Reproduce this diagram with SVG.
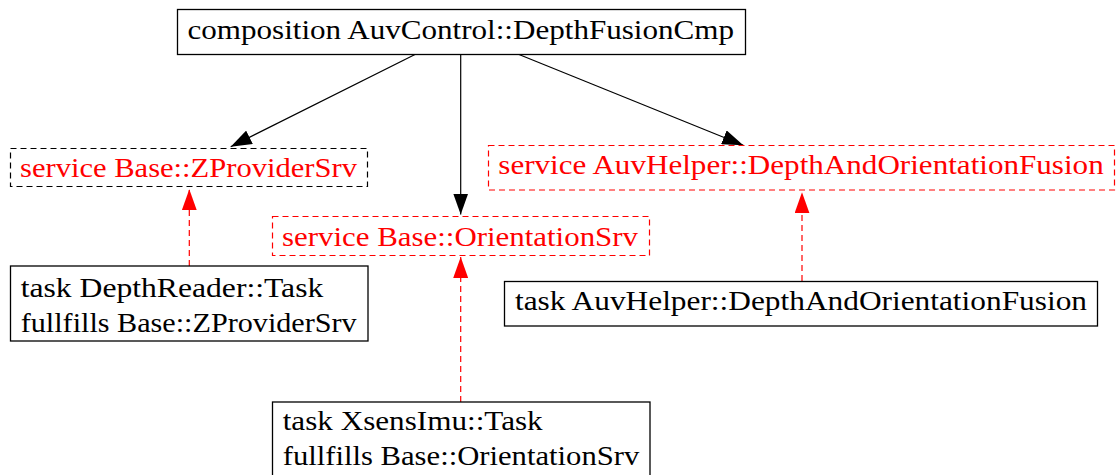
<svg xmlns="http://www.w3.org/2000/svg" width="1116" height="475" viewBox="0 0 1116 475">
  <style>
    text { font-family: "Liberation Serif", Tinos, "Times New Roman", "Noto Serif", "DejaVu Serif", FreeSerif, "Nimbus Roman", "Nimbus Roman No9 L", Times, serif; font-size: 27px; }
    .task rect { fill: #ffffff; stroke: #000000; stroke-width: 1.3; }
    .task text { fill: #000000; }
    .srv rect { fill: #ffffff; stroke: #ff0000; stroke-width: 1.2; stroke-dasharray: 6 4; }
    .srv text { fill: #ff0000; }
    #zprovider rect { stroke: #000000; }
    .uses { stroke: #000000; stroke-width: 1.2; fill: none; }
    .provides { stroke: #ff0000; stroke-width: 1.2; fill: none; stroke-dasharray: 6 4; }
  </style>
  <defs>
    <marker id="head-black" viewBox="0 0 21 15" refX="21" refY="7.5" markerWidth="21" markerHeight="15" markerUnits="userSpaceOnUse" orient="auto">
      <path d="M0,0 L21,7.5 L0,15 z" fill="#000000"/>
    </marker>
    <marker id="head-red" viewBox="0 0 21 15" refX="21" refY="7.5" markerWidth="21" markerHeight="15" markerUnits="userSpaceOnUse" orient="auto">
      <path d="M0,0 L21,7.5 L0,15 z" fill="#ff0000"/>
    </marker>
  </defs>

  <rect width="1116" height="475" fill="#ffffff"/>

  <!-- connectors -->
  <g id="edges">
    <line class="uses" x1="415" y1="54.5" x2="230.7" y2="146.7" marker-end="url(#head-black)"/>
    <line class="uses" x1="460.7" y1="54.5" x2="460.7" y2="214.5" marker-end="url(#head-black)"/>
    <line class="uses" x1="519" y1="54.5" x2="743.3" y2="145.2" marker-end="url(#head-black)"/>
    <line class="provides" x1="189.3" y1="266" x2="189.3" y2="189.3" marker-end="url(#head-red)"/>
    <line class="provides" x1="460.7" y1="402" x2="460.7" y2="257" marker-end="url(#head-red)"/>
    <line class="provides" x1="802" y1="281" x2="802" y2="192.3" marker-end="url(#head-red)"/>
  </g>

  <!-- composition -->
  <g id="composition" class="task">
    <rect x="177.5" y="9.5" width="568" height="45"/>
    <text x="187.5" y="38.5" textLength="546.5" lengthAdjust="spacingAndGlyphs">composition AuvControl::DepthFusionCmp</text>
  </g>

  <!-- services -->
  <g id="zprovider" class="srv">
    <rect x="10.5" y="148.5" width="357" height="38"/>
    <text x="20" y="177.3" textLength="337" lengthAdjust="spacingAndGlyphs">service Base::ZProviderSrv</text>
  </g>
  <g id="orientation" class="srv">
    <rect x="272.5" y="216.5" width="377" height="39"/>
    <text x="282" y="245.5" textLength="356" lengthAdjust="spacingAndGlyphs">service Base::OrientationSrv</text>
  </g>
  <g id="fusion-srv" class="srv">
    <rect x="488.5" y="145.5" width="626" height="44.5"/>
    <text x="498.3" y="174.3" textLength="605.4" lengthAdjust="spacingAndGlyphs">service AuvHelper::DepthAndOrientationFusion</text>
  </g>

  <!-- tasks -->
  <g id="depthreader" class="task">
    <rect x="10.5" y="266" width="357.5" height="75"/>
    <text x="20.7" y="296.7" textLength="302.6" lengthAdjust="spacingAndGlyphs">task DepthReader::Task</text>
    <text x="20.7" y="331.7" textLength="336" lengthAdjust="spacingAndGlyphs">fullfills Base::ZProviderSrv</text>
  </g>
  <g id="fusion-task" class="task">
    <rect x="504.5" y="281.5" width="593" height="44.5"/>
    <text x="515" y="310" textLength="572" lengthAdjust="spacingAndGlyphs">task AuvHelper::DepthAndOrientationFusion</text>
  </g>
  <g id="xsens" class="task">
    <rect x="272.5" y="402" width="377.5" height="90"/>
    <text x="282.7" y="430" textLength="260" lengthAdjust="spacingAndGlyphs">task XsensImu::Task</text>
    <text x="282.7" y="465" textLength="356.6" lengthAdjust="spacingAndGlyphs">fullfills Base::OrientationSrv</text>
  </g>
</svg>
